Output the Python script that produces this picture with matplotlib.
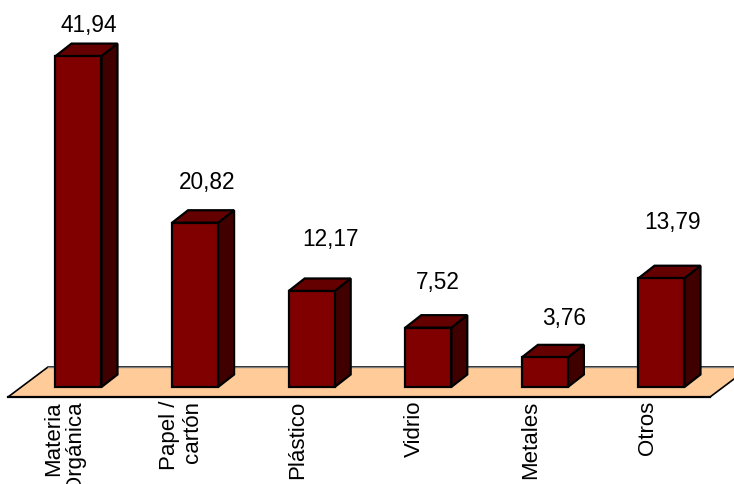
import matplotlib
matplotlib.use("Agg")
import matplotlib.pyplot as plt
from matplotlib.patches import Polygon

#####################################################

categories = ["Materia\nOrgánica", "Papel /\ncartón", "Plástico", "Vidrio", "Metales", "Otros"]
values = [41.94, 20.82, 12.17, 7.52, 3.76, 13.79]
value_labels = ["41,94", "20,82", "12,17", "7,52", "3,76", "13,79"]

#####################################################

W, H = 734, 485
px_cat = 116.6      # pixels between categories
px_val = 7.89       # pixels per unit
x0_px = 78.5        # first bar front centre (px from left)
y0_px = 97          # bar base (px from bottom)

bar_w = 46 / px_cat
dep_x = 16 / px_cat
dep_y = 12.5 / px_val

front_col = "#800000"
top_col = "#640000"
side_col = "#400000"
floor_col = "#FFCC99"

# label nudges in pixels (lift above front top, sideways shift)
lift_px = [25, 35, 46, 40, 33, 50]
shift_px = [2, 4, 11, 2, 11, 3]

plt.rcParams['font.family'] = ['Liberation Sans', 'DejaVu Sans']

fig = plt.figure(figsize=(W / 100, H / 100), dpi=100)
ax = fig.add_axes([0, 0, 1, 1])
ax.set_xlim(-x0_px / px_cat, (W - x0_px) / px_cat)
ax.set_ylim(-y0_px / px_val, (H - y0_px) / px_val)
ax.axis('off')

def px2x(p):
    return (p - x0_px) / px_cat

def px2y(p):
    # p measured from top of image
    return (H - p - y0_px) / px_val

#################################################
# floor
fy0 = px2y(398)
fy1 = px2y(368)
floor = Polygon([(px2x(8), fy0), (px2x(48), fy1), (px2x(750), fy1), (px2x(710), fy0)],
                closed=True, fc=floor_col, ec='black', lw=1.2, zorder=1)
ax.add_patch(floor)
ax.plot([px2x(48), px2x(750)], [fy1, fy1], color='#808080', lw=1, zorder=1.1)
ax.plot([px2x(8), px2x(710)], [fy0, fy0], color='black', lw=1.6, zorder=1.1)

#################################################
# bars
for i, v in enumerate(values):
    l = i - bar_w / 2
    r = i + bar_w / 2
    front = Polygon([(l, 0), (l, v), (r, v), (r, 0)], closed=True,
                    fc=front_col, ec='black', lw=1.6, joinstyle='miter', zorder=3)
    top = Polygon([(l, v), (l + dep_x, v + dep_y), (r + dep_x, v + dep_y), (r, v)],
                  closed=True, fc=top_col, ec='black', lw=1.6, joinstyle='miter', zorder=2)
    side = Polygon([(r, 0), (r, v), (r + dep_x, v + dep_y), (r + dep_x, dep_y)],
                   closed=True, fc=side_col, ec='black', lw=1.6, joinstyle='miter', zorder=2)
    ax.add_patch(side)
    ax.add_patch(top)
    ax.add_patch(front)

    ax.text(i + dep_x / 2 + shift_px[i] / px_cat, v + lift_px[i] / px_val, value_labels[i],
            ha='center', va='baseline', fontsize=16.3, color='black', zorder=4)

    ax.text(i - 14 / px_cat, px2y(401), categories[i], rotation=90,
            ha='center', va='top', multialignment='right',
            fontsize=16, linespacing=1.1, color='black', zorder=4)

plt.savefig("out.png", dpi=100)
